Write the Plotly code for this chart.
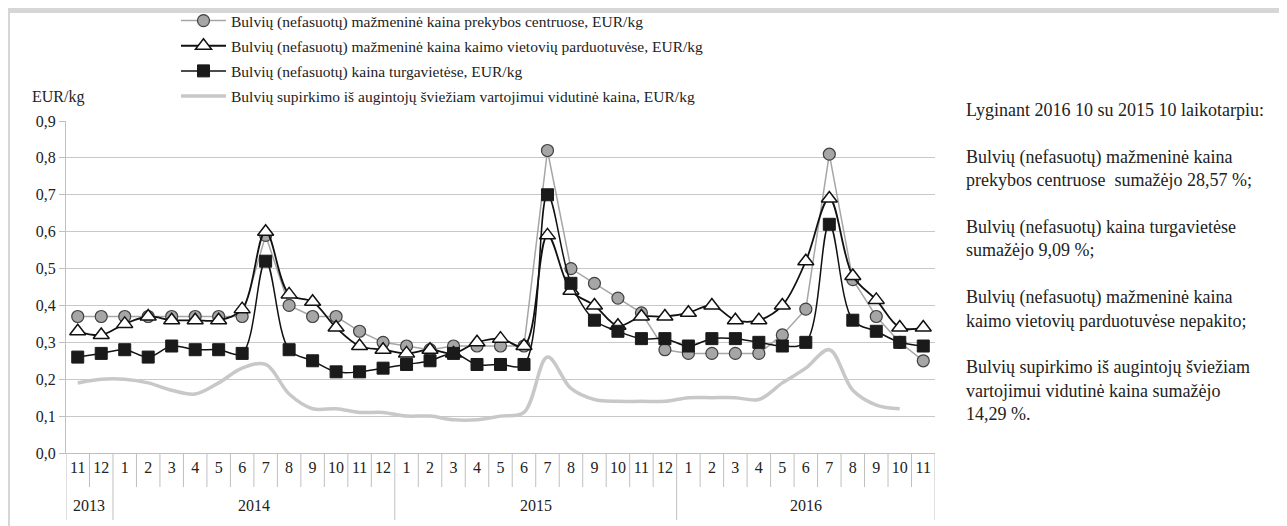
import plotly.graph_objects as go

years = ["2013"] * 2 + ["2014"] * 12 + ["2015"] * 12 + ["2016"] * 11
months = ["11", "12"] + [str(m) for m in range(1, 13)] * 2 + [str(m) for m in range(1, 12)]

prekybos = [0.37, 0.37, 0.37, 0.37, 0.37, 0.37, 0.37, 0.37, 0.59, 0.40, 0.37, 0.37, 0.33, 0.30,
            0.29, 0.28, 0.29, 0.29, 0.29, 0.29, 0.82, 0.50, 0.46, 0.42, 0.38, 0.28,
            0.27, 0.27, 0.27, 0.27, 0.32, 0.39, 0.81, 0.47, 0.37, 0.30, 0.25]
kaimo = [0.33, 0.32, 0.35, 0.37, 0.36, 0.36, 0.36, 0.39, 0.60, 0.43, 0.41, 0.34, 0.29, 0.28,
         0.27, 0.28, 0.27, 0.30, 0.31, 0.29, 0.59, 0.44, 0.40, 0.345, 0.37, 0.37,
         0.38, 0.40, 0.36, 0.36, 0.40, 0.52, 0.69, 0.48, 0.415, 0.34, 0.34]
turgaviete = [0.26, 0.27, 0.28, 0.26, 0.29, 0.28, 0.28, 0.27, 0.52, 0.28, 0.25, 0.22, 0.22, 0.23,
              0.24, 0.25, 0.27, 0.24, 0.24, 0.24, 0.70, 0.46, 0.36, 0.33, 0.31, 0.31,
              0.29, 0.31, 0.31, 0.30, 0.29, 0.30, 0.62, 0.36, 0.33, 0.30, 0.29]
supirkimo = [0.19, 0.20, 0.20, 0.19, 0.17, 0.16, 0.19, 0.23, 0.24, 0.16, 0.12, 0.12, 0.11, 0.11,
             0.10, 0.10, 0.09, 0.09, 0.10, 0.11, 0.26, 0.175, 0.145, 0.14, 0.14, 0.14,
             0.15, 0.15, 0.15, 0.145, 0.19, 0.23, 0.28, 0.17, 0.13, 0.12, None]

names = [
    "Bulvių (nefasuotų) mažmeninė kaina prekybos centruose, EUR/kg",
    "Bulvių (nefasuotų) mažmeninė kaina kaimo vietovių parduotuvėse, EUR/kg",
    "Bulvių (nefasuotų) kaina turgavietėse, EUR/kg",
    "Bulvių supirkimo iš augintojų šviežiam vartojimui vidutinė kaina, EUR/kg",
]

side_text = [
    "Lyginant 2016 10 su 2015 10 laikotarpiu:",
    "",
    "Bulvių (nefasuotų) mažmeninė kaina",
    "prekybos centruose  sumažėjo 28,57 %;",
    "",
    "Bulvių (nefasuotų) kaina turgavietėse",
    "sumažėjo 9,09 %;",
    "",
    "Bulvių (nefasuotų) mažmeninė kaina",
    "kaimo vietovių parduotuvėse nepakito;",
    "",
    "Bulvių supirkimo iš augintojų šviežiam",
    "vartojimui vidutinė kaina sumažėjo",
    "14,29 %.",
]

FONT = "Liberation Serif, Times New Roman, serif"
TXT = "#222222"
idx = list(range(len(months)))

# page body has an 8px margin; figure is sized to fit the 1287x526 window
OFF = 8
W, H = 1287 - OFF, 526 - OFF
L, T = 58, 113
R = W - (935 - OFF)
B = H - (453 - OFF)
pw = W - L - R
ph = H - T - B


def px(xr):
    return (xr - OFF - L) / pw


def py(yr):
    return (H - B - (yr - OFF)) / ph


fig = go.Figure()
fig.add_trace(go.Scatter(
    x=idx, y=supirkimo, name=names[3], mode="lines", legendrank=4, legendgroup="d",
    line=dict(color="#c8c8c8", width=3.5, shape="spline", smoothing=1.0),
    connectgaps=False,
))
fig.add_trace(go.Scatter(
    x=idx, y=prekybos, name=names[0], mode="lines+markers", legendrank=1, legendgroup="a",
    line=dict(color="#a6a6a6", width=1.5),
    marker=dict(symbol="circle", size=12, color="#a6a6a6", line=dict(color="#404040", width=1.2)),
))
fig.add_trace(go.Scatter(
    x=idx, y=kaimo, name=names[1], mode="lines+markers", legendrank=2, legendgroup="b",
    line=dict(color="#111111", width=1.8, shape="spline", smoothing=1.0),
    marker=dict(symbol="triangle-up", size=14, color="white", line=dict(color="#111111", width=1.5)),
))
fig.add_trace(go.Scatter(
    x=idx, y=turgaviete, name=names[2], mode="lines+markers", legendrank=3, legendgroup="c",
    line=dict(color="#111111", width=1.5, shape="spline", smoothing=1.0),
    marker=dict(symbol="square", size=12, color="#1a1a1a", line=dict(color="#1a1a1a", width=1)),
))

fig.update_layout(
    width=W, height=H,
    margin=dict(l=L, r=R, t=T, b=B, autoexpand=False),
    paper_bgcolor="white", plot_bgcolor="white",
    separators=", ",
    font=dict(family=FONT, size=16, color=TXT),
    showlegend=True,
    legend=dict(
        x=px(176), y=py(4), xanchor="left", yanchor="top",
        font=dict(family=FONT, size=15.5, color=TXT),
        bgcolor="rgba(0,0,0,0)", itemwidth=45, tracegroupgap=2,
    ),
    xaxis=dict(
        range=[-0.5, len(months) - 0.5],
        tickmode="array", tickvals=idx, ticktext=months, tickangle=0,
        showgrid=False, zeroline=False,
        showline=True, linecolor="#bfbfbf", linewidth=1,
        ticks="", automargin=False,
        tickfont=dict(family=FONT, size=16, color=TXT),
    ),
    yaxis=dict(
        range=[0, 0.9], dtick=0.1, tickformat=".1f",
        showgrid=True, gridcolor="#c8c8c8", gridwidth=1,
        showline=True, linecolor="#bfbfbf", linewidth=1,
        ticks="outside", ticklen=6, tickcolor="#bfbfbf",
        zeroline=False, automargin=False,
        tickfont=dict(family=FONT, size=16, color=TXT),
    ),
)

# month separators and year dividers on the category axis
for b in range(len(months) + 1):
    is_year = b == 0 or b == len(months) or years[b] != years[b - 1]
    fig.add_shape(
        type="line", xref="x", yref="paper",
        x0=b - 0.5, x1=b - 0.5, y0=0, y1=py(520 if is_year else 487),
        line=dict(color="#bfbfbf", width=1),
    )

for yr in dict.fromkeys(years):
    pos = [i for i, v in enumerate(years) if v == yr]
    fig.add_annotation(
        text=yr, xref="x", yref="paper", x=sum(pos) / len(pos), y=py(505),
        xanchor="center", yanchor="middle", showarrow=False,
        font=dict(family=FONT, size=16, color=TXT),
    )

fig.add_annotation(
    text="EUR/kg", xref="paper", yref="paper", x=px(30), y=py(97),
    xanchor="left", yanchor="middle", showarrow=False,
    font=dict(family=FONT, size=16, color=TXT),
)

fig.add_annotation(
    text="<br>".join(side_text), xref="paper", yref="paper", x=px(964), y=py(98),
    xanchor="left", yanchor="top", align="left", showarrow=False,
    font=dict(family=FONT, size=18, color=TXT),
)

fig.add_shape(
    type="rect", xref="paper", yref="paper",
    x0=px(7), x1=px(1283), y0=py(H + 60), y1=py(10),
    line=dict(color="#d6d6d6", width=6), fillcolor="rgba(0,0,0,0)", layer="below",
)

fig.write_html("out.html")
